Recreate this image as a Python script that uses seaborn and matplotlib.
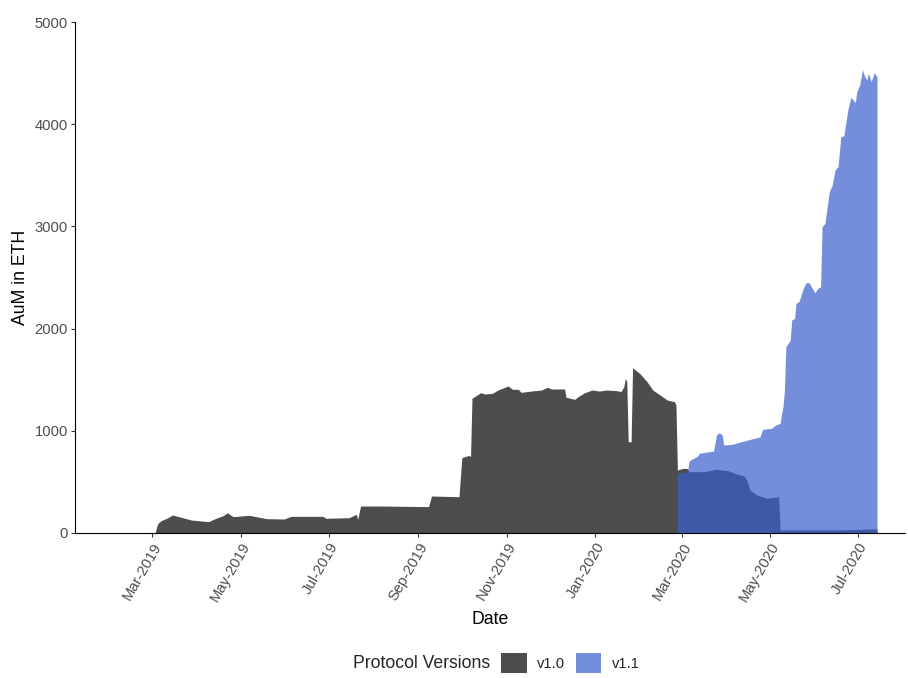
import pandas as pd
import matplotlib.pyplot as plt
from matplotlib.patches import Patch
import seaborn as sns

# v1.0 protocol AuM (ETH)
v10_dates = ["2019-03-03", "2019-03-04", "2019-03-05", "2019-03-07", "2019-03-11",
             "2019-03-15", "2019-03-22", "2019-03-28", "2019-04-09", "2019-04-14",
             "2019-04-19", "2019-04-22", "2019-04-24", "2019-04-26", "2019-05-07",
             "2019-05-19", "2019-05-31", "2019-06-05", "2019-06-27", "2019-06-29",
             "2019-07-15", "2019-07-20", "2019-07-21", "2019-07-23", "2019-08-07",
             "2019-09-08", "2019-09-10", "2019-09-29", "2019-10-01", "2019-10-06",
             "2019-10-07", "2019-10-08", "2019-10-14", "2019-10-17", "2019-10-22",
             "2019-10-26", "2019-10-30", "2019-11-02", "2019-11-05", "2019-11-09",
             "2019-11-11", "2019-11-18", "2019-11-25", "2019-11-29", "2019-12-02",
             "2019-12-11", "2019-12-12", "2019-12-15", "2019-12-18", "2019-12-21",
             "2019-12-25", "2019-12-30", "2020-01-04", "2020-01-09", "2020-01-16",
             "2020-01-19", "2020-01-21", "2020-01-22", "2020-01-23", "2020-01-24",
             "2020-01-26", "2020-01-27", "2020-02-01", "2020-02-06", "2020-02-10",
             "2020-02-15", "2020-02-20", "2020-02-25", "2020-02-26", "2020-02-27",
             "2020-03-02", "2020-03-05", "2020-03-06", "2020-03-16", "2020-03-25",
             "2020-04-02", "2020-04-08", "2020-04-13", "2020-04-15", "2020-04-17",
             "2020-04-22", "2020-04-29", "2020-05-07", "2020-05-08", "2020-06-16",
             "2020-06-29", "2020-07-09", "2020-07-14"]
v10_aum = [0, 60, 95, 120, 144,
           176, 150, 127, 111, 144,
           170, 199, 176, 160, 173,
           140, 137, 163, 163, 144,
           150, 183, 134, 264, 264,
           258, 362, 355, 737, 760,
           745, 1318, 1373, 1360, 1366,
           1399, 1422, 1438, 1406, 1406,
           1376, 1389, 1399, 1425, 1409,
           1409, 1328, 1318, 1308, 1340,
           1373, 1399, 1389, 1399, 1393,
           1383, 1432, 1514, 1480, 893,
           893, 1615, 1561, 1480, 1399,
           1350, 1301, 1285, 1252, 616,
           633, 630, 600, 600, 623,
           610, 577, 558, 519, 421,
           372, 340, 355, 30, 30,
           35, 40, 40]

# v1.1 protocol AuM (ETH)
v11_dates = ["2020-02-27", "2020-03-05", "2020-03-06", "2020-03-07", "2020-03-12",
             "2020-03-13", "2020-03-23", "2020-03-25", "2020-03-27", "2020-03-29",
             "2020-03-30", "2020-04-05", "2020-04-11", "2020-04-20", "2020-04-24",
             "2020-04-26", "2020-05-02", "2020-05-05", "2020-05-08", "2020-05-09",
             "2020-05-10", "2020-05-11", "2020-05-12", "2020-05-15", "2020-05-16",
             "2020-05-18", "2020-05-19", "2020-05-21", "2020-05-24", "2020-05-26",
             "2020-05-28", "2020-06-01", "2020-06-03", "2020-06-05", "2020-06-06",
             "2020-06-08", "2020-06-11", "2020-06-13", "2020-06-15", "2020-06-17",
             "2020-06-19", "2020-06-21", "2020-06-24", "2020-06-26", "2020-06-29",
             "2020-06-30", "2020-07-02", "2020-07-04", "2020-07-05", "2020-07-07",
             "2020-07-08", "2020-07-10", "2020-07-12", "2020-07-14"]
v11_aum = [584, 600, 698, 714, 753,
           780, 802, 959, 981, 959,
           861, 868, 893, 926, 940,
           1015, 1024, 1057, 1073, 1171,
           1236, 1400, 1823, 1888, 2084,
           2100, 2247, 2263, 2394, 2449,
           2449, 2351, 2394, 2410, 2997,
           3030, 3340, 3405, 3552, 3584,
           3878, 3885, 4155, 4263, 4211,
           4318, 4384, 4537, 4481, 4432,
           4498, 4416, 4504, 4465]

tick_dates = ["2019-03-01", "2019-05-01", "2019-07-01", "2019-09-01", "2019-11-01",
              "2020-01-01", "2020-03-01", "2020-05-01", "2020-07-01"]
tick_labels = ["Mar-2019", "May-2019", "Jul-2019", "Sep-2019", "Nov-2019",
               "Jan-2020", "Mar-2020", "May-2020", "Jul-2020"]
y_ticks = [0, 1000, 2000, 3000, 4000, 5000]

versions = ["v1.0", "v1.1"]
colors = {"v1.0": "#4d4d4d", "v1.1": "#3b5fcd"}
alphas = {"v1.0": 1.0, "v1.1": 0.7}

df = pd.concat([
    pd.DataFrame({"Date": pd.to_datetime(v10_dates), "AuM": v10_aum, "Version": "v1.0"}),
    pd.DataFrame({"Date": pd.to_datetime(v11_dates), "AuM": v11_aum, "Version": "v1.1"}),
])

sns.set_theme(style="ticks")
plt.rcParams['font.family'] = ['Liberation Sans', 'DejaVu Sans']

fig = plt.figure(figsize=(9.08, 6.78), dpi=100)
ax = fig.add_axes([75 / 908, 145 / 678, 830 / 908, 511 / 678])

for v in versions:
    sub = df[df["Version"] == v]
    ax.fill_between(sub["Date"], 0, sub["AuM"], color=colors[v], alpha=alphas[v], linewidth=0)

ax.set_xlim(pd.Timestamp("2019-01-06 14:00"), pd.Timestamp("2020-08-02 08:00"))
ax.set_ylim(0, 5000)
ax.set_xticks(pd.to_datetime(tick_dates))
ax.set_xticklabels(tick_labels, rotation=60, ha="right", rotation_mode="anchor")
ax.set_yticks(y_ticks)
ax.tick_params(axis="both", labelsize=10.6, labelcolor="#4d4d4d", color="#333333",
               length=3, width=0.8, pad=2)
for s in ["left", "bottom"]:
    ax.spines[s].set_color("black")
    ax.spines[s].set_linewidth(0.8)
sns.despine(ax=ax)

ax.set_xlabel("Date", fontsize=12.7, color="black", labelpad=5)
ax.set_ylabel("AuM in ETH", fontsize=12.7, color="black", labelpad=4)

handles = [Patch(facecolor=colors[v], alpha=alphas[v], edgecolor="none") for v in versions]
fig.text(490 / 908, 15 / 678, "Protocol Versions", fontsize=12.7, ha="right", va="center")
fig.legend(handles, versions, loc="center left", bbox_to_anchor=(501 / 908, 15 / 678),
           frameon=False, fontsize=10.6, handlelength=1.75, handleheight=1.75,
           handletextpad=0.7, columnspacing=0.7, ncol=2, borderpad=0, borderaxespad=0)

fig.savefig("out.png", dpi=100)
